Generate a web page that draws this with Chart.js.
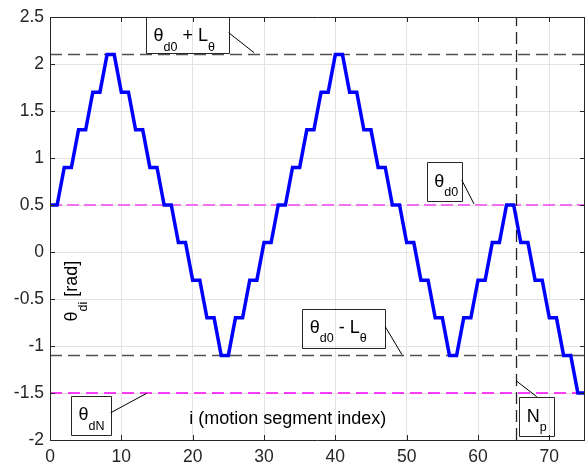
<!DOCTYPE html>
<html>
<head>
<meta charset="utf-8">
<script src="https://cdn.jsdelivr.net/npm/chart.js@4.4.0/dist/chart.umd.min.js"></script>
<style>
  html, body { margin: 0; padding: 0; background: #fff; }
  #wrap { width: 588px; height: 466px; }
</style>
</head>
<body>
<div id="wrap"><canvas id="canvas"></canvas></div>
<script>
// motion segment index and desired angle per segment
const segIndex = [0, 1, 2, 3, 4, 5, 6, 7, 8, 9, 10, 11, 12, 13, 14, 15, 16, 17, 18, 19,
  20, 21, 22, 23, 24, 25, 26, 27, 28, 29, 30, 31, 32, 33, 34, 35, 36, 37, 38, 39,
  40, 41, 42, 43, 44, 45, 46, 47, 48, 49, 50, 51, 52, 53, 54, 55, 56, 57, 58, 59,
  60, 61, 62, 63, 64, 65, 66, 67, 68, 69, 70, 71, 72, 73, 74, 75];
const thetaDi = [0.5, 0.5, 0.9, 0.9, 1.3, 1.3, 1.7, 1.7, 2.1, 2.1, 1.7, 1.7, 1.3, 1.3, 0.9, 0.9,
  0.5, 0.5, 0.1, 0.1, -0.3, -0.3, -0.7, -0.7, -1.1, -1.1, -0.7, -0.7, -0.3, -0.3, 0.1, 0.1,
  0.5, 0.5, 0.9, 0.9, 1.3, 1.3, 1.7, 1.7, 2.1, 2.1, 1.7, 1.7, 1.3, 1.3, 0.9, 0.9,
  0.5, 0.5, 0.1, 0.1, -0.3, -0.3, -0.7, -0.7, -1.1, -1.1, -0.7, -0.7, -0.3, -0.3, 0.1, 0.1,
  0.5, 0.5, 0.1, 0.1, -0.3, -0.3, -0.7, -0.7, -1.1, -1.1, -1.5, -1.5];

const xTicks = [0, 10, 20, 30, 40, 50, 60, 70];
const yTicks = [-2, -1.5, -1, -0.5, 0, 0.5, 1, 1.5, 2, 2.5];
const xRange = [0, 75];
const yRange = [-2, 2.5];

const thetaD0 = 0.5;
const thetaUpper = 2.1;   // thetaD0 + L
const thetaLower = -1.1;  // thetaD0 - L
const thetaDN = -1.5;
const nP = 65.4;

const family = '"Liberation Sans", Arial, Helvetica, sans-serif';
const axisColor = '#262626';

// text boxes, in data units
const notes = [
  { box: [13.46, 25.05, 2.5, 2.114], parts: [['θ'], ['d0', 1], [' + L'], ['θ', 1]], lead: [25.05, 2.333, 28.62, 2.12] },
  { box: [52.81, 57.72, 0.954, 0.543], parts: [['θ'], ['d0', 1]], lead: [57.72, 0.766, 59.44, 0.511] },
  { box: [35.37, 47.0, -0.603, -1.014], parts: [['θ'], ['d0', 1], [' - L'], ['θ', 1]], lead: [47.0, -0.795, 49.35, -1.093] },
  { box: [65.79, 70.65, -1.546, -1.957], parts: [['N'], ['p', 1]], lead: [65.33, -1.369, 68.23, -1.539] },
  { box: [2.94, 8.51, -1.529, -1.939], parts: [['θ'], ['dN', 1]], lead: [8.51, -1.71, 13.56, -1.503] }
];

function drawParts(ctx, parts, x, y) {
  let cx = x;
  for (const p of parts) {
    ctx.font = (p[1] ? '12.5px ' : '18px ') + family;
    ctx.fillText(p[0], cx, p[1] ? y + 9.5 : y);
    cx += ctx.measureText(p[0]).width;
  }
  return cx - x;
}

function partsWidth(ctx, parts) {
  let w = 0;
  for (const p of parts) {
    ctx.font = (p[1] ? '12.5px ' : '18px ') + family;
    w += ctx.measureText(p[0]).width;
  }
  return w;
}

const framePlugin = {
  id: 'frame',
  afterDatasetsDraw(chart) {
    const ctx = chart.ctx;
    const a = chart.chartArea;
    const xs = chart.scales.x, ys = chart.scales.y;
    ctx.save();
    ctx.strokeStyle = axisColor;
    ctx.lineWidth = 1;
    ctx.beginPath();
    ctx.rect(Math.round(a.left) + 0.5, Math.round(a.top) + 0.5,
      Math.round(a.right - a.left) - 1, Math.round(a.bottom - a.top));
    for (const t of xTicks) {
      const px = Math.round(xs.getPixelForValue(t)) + 0.5;
      ctx.moveTo(px, a.bottom); ctx.lineTo(px, a.bottom - 5);
      ctx.moveTo(px, a.top); ctx.lineTo(px, a.top + 5);
    }
    for (const t of yTicks) {
      const py = Math.round(ys.getPixelForValue(t)) + 0.5;
      ctx.moveTo(a.left, py); ctx.lineTo(a.left + 5, py);
      ctx.moveTo(a.right, py); ctx.lineTo(a.right - 5, py);
    }
    ctx.stroke();

    // annotations
    ctx.fillStyle = '#000';
    ctx.textBaseline = 'alphabetic';
    ctx.textAlign = 'left';
    for (const n of notes) {
      const x0 = xs.getPixelForValue(n.box[0]), x1 = xs.getPixelForValue(n.box[1]);
      const y0 = ys.getPixelForValue(n.box[2]), y1 = ys.getPixelForValue(n.box[3]);
      ctx.strokeStyle = axisColor;
      ctx.beginPath();
      ctx.rect(Math.round(x0) + 0.5, Math.round(y0) + 0.5, Math.round(x1 - x0), Math.round(y1 - y0));
      ctx.stroke();
      ctx.strokeStyle = '#000';
      ctx.beginPath();
      ctx.moveTo(xs.getPixelForValue(n.lead[0]), ys.getPixelForValue(n.lead[1]));
      ctx.lineTo(xs.getPixelForValue(n.lead[2]), ys.getPixelForValue(n.lead[3]));
      ctx.stroke();
      drawParts(ctx, n.parts, x0 + 7.5, y0 + 24.3);
    }

    // axis labels drawn inside the axes
    const xl = [['i (motion segment index)']];
    const xw = partsWidth(ctx, xl);
    drawParts(ctx, xl, xs.getPixelForValue(33.32) - xw / 2, ys.getPixelForValue(-1.83));

    const yl = [['θ'], ['di', 1], [' [rad]']];
    const yw = partsWidth(ctx, yl);
    ctx.translate(xs.getPixelForValue(3.79), ys.getPixelForValue(-0.415));
    ctx.rotate(-Math.PI / 2);
    drawParts(ctx, yl, -yw / 2, 0);
    ctx.restore();
  }
};

function line(points, color, width, dash) {
  return {
    data: points,
    borderColor: color,
    borderWidth: width,
    borderDash: dash,
    pointRadius: 0,
    fill: false,
    tension: 0
  };
}

const canvas = document.getElementById('canvas');
const blue = line(segIndex.map((x, i) => ({ x: x, y: thetaDi[i] })), '#0000ff', 3.5, []);
blue.borderJoinStyle = 'miter';

new Chart(canvas.getContext('2d'), {
  type: 'line',
  data: {
    datasets: [
      blue,
      line([{ x: nP, y: yRange[0] }, { x: nP, y: yRange[1] }], '#262626', 1.3, [12, 6]),
      line([{ x: xRange[0], y: thetaUpper }, { x: xRange[1], y: thetaUpper }], '#505050', 1.5, [12, 6]),
      line([{ x: xRange[0], y: thetaLower }, { x: xRange[1], y: thetaLower }], '#505050', 1.5, [12, 6]),
      line([{ x: xRange[0], y: thetaD0 }, { x: xRange[1], y: thetaD0 }], '#f070f0', 2, [12, 5]),
      line([{ x: xRange[0], y: thetaDN }, { x: xRange[1], y: thetaDN }], '#ff00ff', 1.3, [12, 6])
    ]
  },
  options: {
    responsive: true,
    maintainAspectRatio: false,
    animation: false,
    layout: { padding: { top: 17, right: 3, left: 0, bottom: 0 } },
    plugins: { legend: { display: false }, tooltip: { enabled: false } },
    scales: {
      x: {
        type: 'linear',
        min: xRange[0],
        max: xRange[1],
        afterBuildTicks: (s) => { s.ticks = xTicks.map((v) => ({ value: v })); },
        afterFit: (s) => { s.height = 26; },
        grid: { color: '#e3e3e3', lineWidth: 1, drawTicks: false },
        border: { display: false },
        ticks: { padding: 7, color: axisColor, font: { family: family, size: 17.5 }, maxRotation: 0 }
      },
      y: {
        type: 'linear',
        min: yRange[0],
        max: yRange[1],
        afterBuildTicks: (s) => { s.ticks = yTicks.map((v) => ({ value: v })); },
        afterFit: (s) => { s.width = 50; },
        grid: { color: '#e3e3e3', lineWidth: 1, drawTicks: false },
        border: { display: false },
        ticks: {
          padding: 6,
          color: axisColor,
          font: { family: family, size: 17.5 },
          callback: (v) => String(v)
        }
      }
    }
  },
  plugins: [framePlugin]
});
</script>
</body>
</html>
